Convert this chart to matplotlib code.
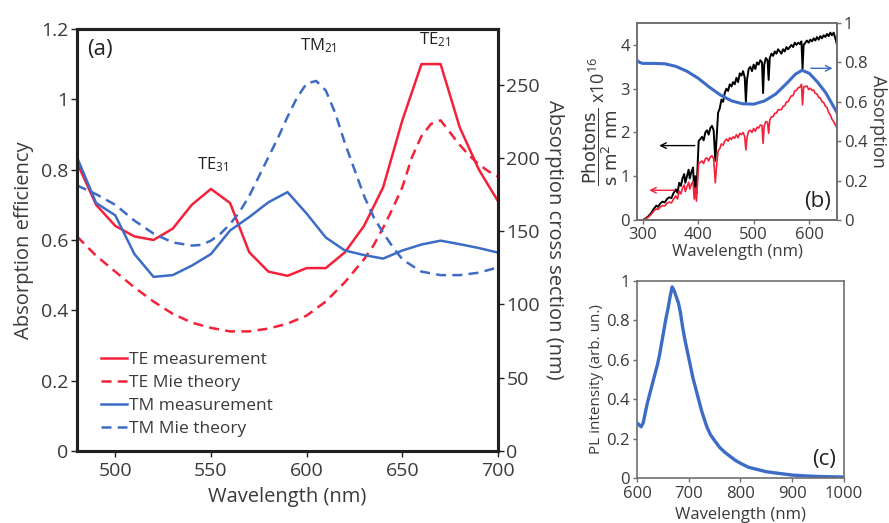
import numpy as np
import matplotlib
matplotlib.use("Agg")
import matplotlib.pyplot as plt

plt.rcParams["font.family"] = ["Open Sans", "DejaVu Sans"]
plt.rcParams["mathtext.default"] = "regular"

RED = "#f5213a"
BLUE = "#3d6cc6"
INK = "#3a3a3a"
GRAY = "#707070"

# ---- panel (a): absorption efficiency vs wavelength ----
wl_meas = [480, 490, 500, 510, 520, 530, 540, 550, 560, 570, 580, 590,
           600, 610, 620, 630, 640, 650, 660, 670, 680, 690, 700]
te_meas = [0.82, 0.70, 0.64, 0.61, 0.60, 0.632, 0.70, 0.745, 0.705, 0.565,
           0.51, 0.498, 0.52, 0.52, 0.565, 0.64, 0.75, 0.94, 1.10, 1.10,
           0.92, 0.80, 0.71]
tm_meas = [0.835, 0.705, 0.67, 0.56, 0.495, 0.50, 0.527, 0.56, 0.627, 0.665,
           0.707, 0.736, 0.675, 0.607, 0.57, 0.557, 0.547, 0.57, 0.587,
           0.598, 0.588, 0.577, 0.564]

wl_te_mie = [480, 490, 500, 510, 520, 530, 540, 550, 560, 570, 580, 590, 600,
             610, 620, 630, 635, 640, 645, 650, 655, 660, 665, 670, 675, 680,
             685, 690, 695, 700]
te_mie = [0.61, 0.555, 0.51, 0.465, 0.425, 0.39, 0.365, 0.35, 0.34, 0.34,
          0.348, 0.362, 0.385, 0.425, 0.48, 0.545, 0.585, 0.635, 0.69, 0.75,
          0.835, 0.895, 0.93, 0.94, 0.905, 0.87, 0.84, 0.815, 0.795, 0.78]

wl_tm_mie = [480, 490, 500, 510, 520, 530, 540, 545, 550, 555, 560, 565, 570,
             575, 580, 585, 590, 595, 600, 605, 610, 615, 620, 625, 630, 635,
             640, 645, 650, 655, 660, 670, 680, 690, 700]
tm_mie = [0.755, 0.73, 0.70, 0.655, 0.618, 0.593, 0.584, 0.586, 0.598, 0.618,
          0.645, 0.68, 0.725, 0.78, 0.835, 0.89, 0.95, 1.005, 1.045, 1.052,
          1.025, 0.96, 0.875, 0.80, 0.725, 0.665, 0.62, 0.58, 0.545, 0.527,
          0.51, 0.50, 0.50, 0.507, 0.522]

# ---- panel (b): solar photon flux, absorbed flux, absorption ----
wl_sun = [300, 305, 310, 315, 320, 325, 328, 332, 336, 340, 344, 348, 352,
          356, 360, 363, 366, 369, 372, 375, 377, 380, 383, 385, 388, 391,
          393, 395, 397, 399, 401, 404, 407, 410, 413, 416, 419, 422, 425,
          428, 431, 433, 436, 439, 442, 445, 448, 451, 454, 457, 460, 463,
          466, 469, 472, 475, 478, 481, 484, 486, 488, 491, 494, 497, 500,
          503, 506, 509, 512, 515, 517, 519, 522, 525, 527, 529, 532, 535,
          538, 541, 544, 547, 550, 553, 556, 559, 562, 565, 568, 571, 574,
          577, 580, 583, 586, 588, 590, 593, 596, 599, 602, 605, 608, 611,
          614, 617, 620, 623, 626, 629, 632, 635, 638, 641, 644, 647, 650]
sun_flux = [0.00, 0.03, 0.08, 0.15, 0.25, 0.33, 0.30, 0.38, 0.42, 0.40, 0.48,
            0.52, 0.50, 0.62, 0.70, 0.62, 0.85, 0.78, 0.95, 1.05, 0.85, 1.00,
            1.15, 0.95, 1.10, 1.20, 0.65, 1.00, 0.60, 1.20, 1.80, 1.85, 1.90,
            1.82, 2.00, 2.05, 1.95, 2.10, 2.15, 2.05, 1.35, 1.80, 2.45, 2.55,
            2.75, 2.70, 2.90, 3.00, 2.95, 3.10, 3.05, 3.15, 3.10, 3.25, 3.15,
            3.35, 3.30, 3.40, 3.25, 2.70, 3.20, 3.45, 3.50, 3.40, 3.55, 3.45,
            3.60, 3.55, 3.65, 3.60, 2.90, 3.55, 3.70, 3.65, 3.20, 3.70, 3.80,
            3.75, 3.85, 3.80, 3.90, 3.85, 3.80, 3.90, 3.85, 3.95, 3.90, 3.95,
            4.00, 3.95, 4.05, 4.00, 4.05, 4.02, 4.08, 3.45, 4.00, 4.05, 4.10,
            4.05, 4.12, 4.08, 4.15, 4.10, 4.18, 4.12, 4.20, 4.15, 4.22, 4.18,
            4.25, 4.20, 4.28, 4.22, 4.28, 4.15, 4.00]
abs_flux = [0.00, 0.02, 0.06, 0.12, 0.20, 0.26, 0.24, 0.30, 0.33, 0.32, 0.38,
            0.41, 0.39, 0.48, 0.55, 0.48, 0.66, 0.60, 0.73, 0.80, 0.65, 0.76,
            0.86, 0.71, 0.82, 0.88, 0.48, 0.73, 0.43, 0.87, 1.29, 1.32, 1.35,
            1.29, 1.40, 1.42, 1.35, 1.44, 1.47, 1.40, 0.85, 1.20, 1.58, 1.63,
            1.74, 1.71, 1.80, 1.85, 1.80, 1.88, 1.84, 1.90, 1.87, 1.95, 1.88,
            1.98, 1.95, 2.00, 1.90, 1.60, 1.88, 2.03, 2.05, 2.00, 2.09, 2.03,
            2.12, 2.10, 2.17, 2.16, 1.75, 2.15, 2.25, 2.23, 1.98, 2.28, 2.36,
            2.36, 2.44, 2.44, 2.52, 2.52, 2.52, 2.60, 2.61, 2.70, 2.70, 2.78,
            2.84, 2.84, 2.95, 2.96, 3.02, 3.03, 3.10, 2.63, 3.04, 3.05, 3.06,
            2.98, 3.01, 2.96, 2.97, 2.89, 2.88, 2.80, 2.79, 2.70, 2.69, 2.60,
            2.57, 2.46, 2.40, 2.30, 2.25, 2.17, 2.10]

wl_abs = [290, 295, 300, 320, 340, 360, 380, 400, 420, 440, 460, 480, 500,
          520, 540, 560, 575, 587, 600, 615, 630, 650]
absorption = [0.81, 0.80, 0.795, 0.795, 0.793, 0.78, 0.755, 0.72, 0.675,
              0.635, 0.605, 0.59, 0.588, 0.605, 0.64, 0.695, 0.74, 0.76,
              0.745, 0.70, 0.645, 0.545]

# ---- panel (c): photoluminescence ----
wl_pl = [600, 604, 608, 612, 616, 620, 625, 630, 635, 640, 644, 648, 652,
         656, 660, 664, 668, 672, 676, 680, 684, 688, 692, 696, 700, 704,
         708, 712, 716, 720, 725, 730, 735, 742, 750, 760, 770, 780, 790,
         800, 815, 830, 850, 870, 900, 930, 960, 1000]
pl = [0.28, 0.27, 0.26, 0.28, 0.33, 0.38, 0.43, 0.48, 0.53, 0.58, 0.63, 0.69,
      0.75, 0.81, 0.86, 0.92, 0.97, 0.95, 0.92, 0.89, 0.84, 0.77, 0.71, 0.66,
      0.61, 0.56, 0.51, 0.47, 0.43, 0.39, 0.34, 0.30, 0.26, 0.22, 0.19, 0.155,
      0.13, 0.11, 0.09, 0.075, 0.055, 0.045, 0.032, 0.025, 0.015, 0.01, 0.007,
      0.005]


def style_box(ax, color, lw):
    for s in ax.spines.values():
        s.set_color(color)
        s.set_linewidth(lw)
    ax.tick_params(colors=color, labelcolor=INK, length=4, width=1)


fig = plt.figure(figsize=(8.89, 5.23), dpi=100)

# panel (a)
axa = fig.add_axes([0.0866, 0.1377, 0.4736, 0.807])
axa.plot(wl_meas, te_meas, color=RED, lw=1.8)
axa.plot(wl_te_mie, te_mie, color=RED, lw=1.8, ls=(0, (4, 2.5)))
axa.plot(wl_meas, tm_meas, color=BLUE, lw=1.8)
axa.plot(wl_tm_mie, tm_mie, color=BLUE, lw=1.8, ls=(0, (4, 2.5)))
axa.set_xlim(480, 700)
axa.set_ylim(0, 1.2)
axa.set_xticks([500, 550, 600, 650, 700])
axa.set_yticks([0, 0.2, 0.4, 0.6, 0.8, 1.0, 1.2])
axa.set_yticklabels(["0", "0.2", "0.4", "0.6", "0.8", "1", "1.2"])
style_box(axa, "#231f20", 2.2)
axa.tick_params(labelsize=14, pad=2)
axa.tick_params(axis="x", pad=4)
axa.set_xlabel("Wavelength (nm)", fontsize=14.5, color=INK, labelpad=5)
axa.set_ylabel("Absorption efficiency", fontsize=14.5, color=INK, labelpad=5)
axa.legend(["TE measurement", "TE Mie theory", "TM measurement",
            "TM Mie theory"], loc="lower left", bbox_to_anchor=(0.02, -0.005),
           frameon=False, fontsize=12.5, handlelength=1.5, handletextpad=0.1,
           labelspacing=0.4, labelcolor=INK)
axa.text(0.025, 0.975, "(a)", transform=axa.transAxes, fontsize=16,
         va="top", ha="left", color="#222222")
axa.text(551, 0.80, "TE$_{31}$", fontsize=12, ha="center", color="#222222")
axa.text(606, 1.14, "TM$_{21}$", fontsize=12, ha="center", color="#222222")
axa.text(667, 1.155, "TE$_{21}$", fontsize=12, ha="center", color="#222222")

axa2 = axa.twinx()
axa2.set_ylim(0, 288)
axa2.set_yticks([0, 50, 100, 150, 200, 250])
style_box(axa2, "#231f20", 2.2)
axa2.tick_params(labelsize=14, pad=2)
axa2.set_ylabel("Absorption cross section (nm)", fontsize=14.5, color=INK,
                rotation=270, labelpad=17)

# panel (b)
axb = fig.add_axes([0.7165, 0.5793, 0.225, 0.3767])
axb.plot(wl_sun, sun_flux, color="black", lw=1.4)
axb.plot(wl_sun, abs_flux, color=RED, lw=1.2)
axb.set_xlim(290, 650)
axb.set_ylim(0, 4.5)
axb.set_xticks([300, 400, 500, 600])
axb.set_yticks([0, 1, 2, 3, 4])
style_box(axb, GRAY, 1.2)
axb.tick_params(labelsize=12, pad=2, length=3)
axb.set_xlabel("Wavelength (nm)", fontsize=12, color=INK, labelpad=1)
axb.set_ylabel(r"$\dfrac{\mathrm{Photons}}{\mathrm{s\ m^2\ nm}}$ x10$^{16}$",
               fontsize=13, color=INK, labelpad=0)
axb.annotate("", xy=(325, 1.70), xytext=(399, 1.70),
             arrowprops=dict(arrowstyle="->", color="black", lw=1.0))
axb.annotate("", xy=(307, 0.68), xytext=(363, 0.68),
             arrowprops=dict(arrowstyle="->", color=RED, lw=1.0))
axb.text(0.97, 0.04, "(b)", transform=axb.transAxes, fontsize=16,
         va="bottom", ha="right", color="#222222")
axb2 = axb.twinx()
axb2.plot(wl_abs, absorption, color=BLUE, lw=2.2)
axb2.set_ylim(0, 1)
axb2.set_yticks([0, 0.2, 0.4, 0.6, 0.8, 1.0])
axb2.set_yticklabels(["0", "0.2", "0.4", "0.6", "0.8", "1"])
style_box(axb2, GRAY, 1.2)
axb2.tick_params(labelsize=12, pad=2, length=3)
axb2.set_ylabel("Absorption", fontsize=13, color=INK, rotation=270,
                labelpad=14)
axb2.annotate("", xy=(647, 0.77), xytext=(598, 0.77),
              arrowprops=dict(arrowstyle="->", color=BLUE, lw=1.0))

# panel (c)
axc = fig.add_axes([0.7165, 0.086, 0.2328, 0.3767])
axc.plot(wl_pl, pl, color=BLUE, lw=2.4)
axc.set_xlim(600, 1000)
axc.set_ylim(0, 1.0)
axc.set_xticks([600, 700, 800, 900, 1000])
axc.set_yticks([0, 0.2, 0.4, 0.6, 0.8, 1.0])
axc.set_yticklabels(["0", "0.2", "0.4", "0.6", "0.8", "1"])
style_box(axc, GRAY, 1.2)
axc.tick_params(labelsize=12, pad=2, length=3)
axc.tick_params(axis="x", pad=3)
axc.set_xlabel("Wavelength (nm)", fontsize=12, color=INK, labelpad=3)
axc.set_ylabel("PL intensity (arb. un.)", fontsize=11, color=INK, labelpad=2)
axc.text(0.96, 0.04, "(c)", transform=axc.transAxes, fontsize=16,
         va="bottom", ha="right", color="#222222")

fig.savefig("out.png", dpi=100)
